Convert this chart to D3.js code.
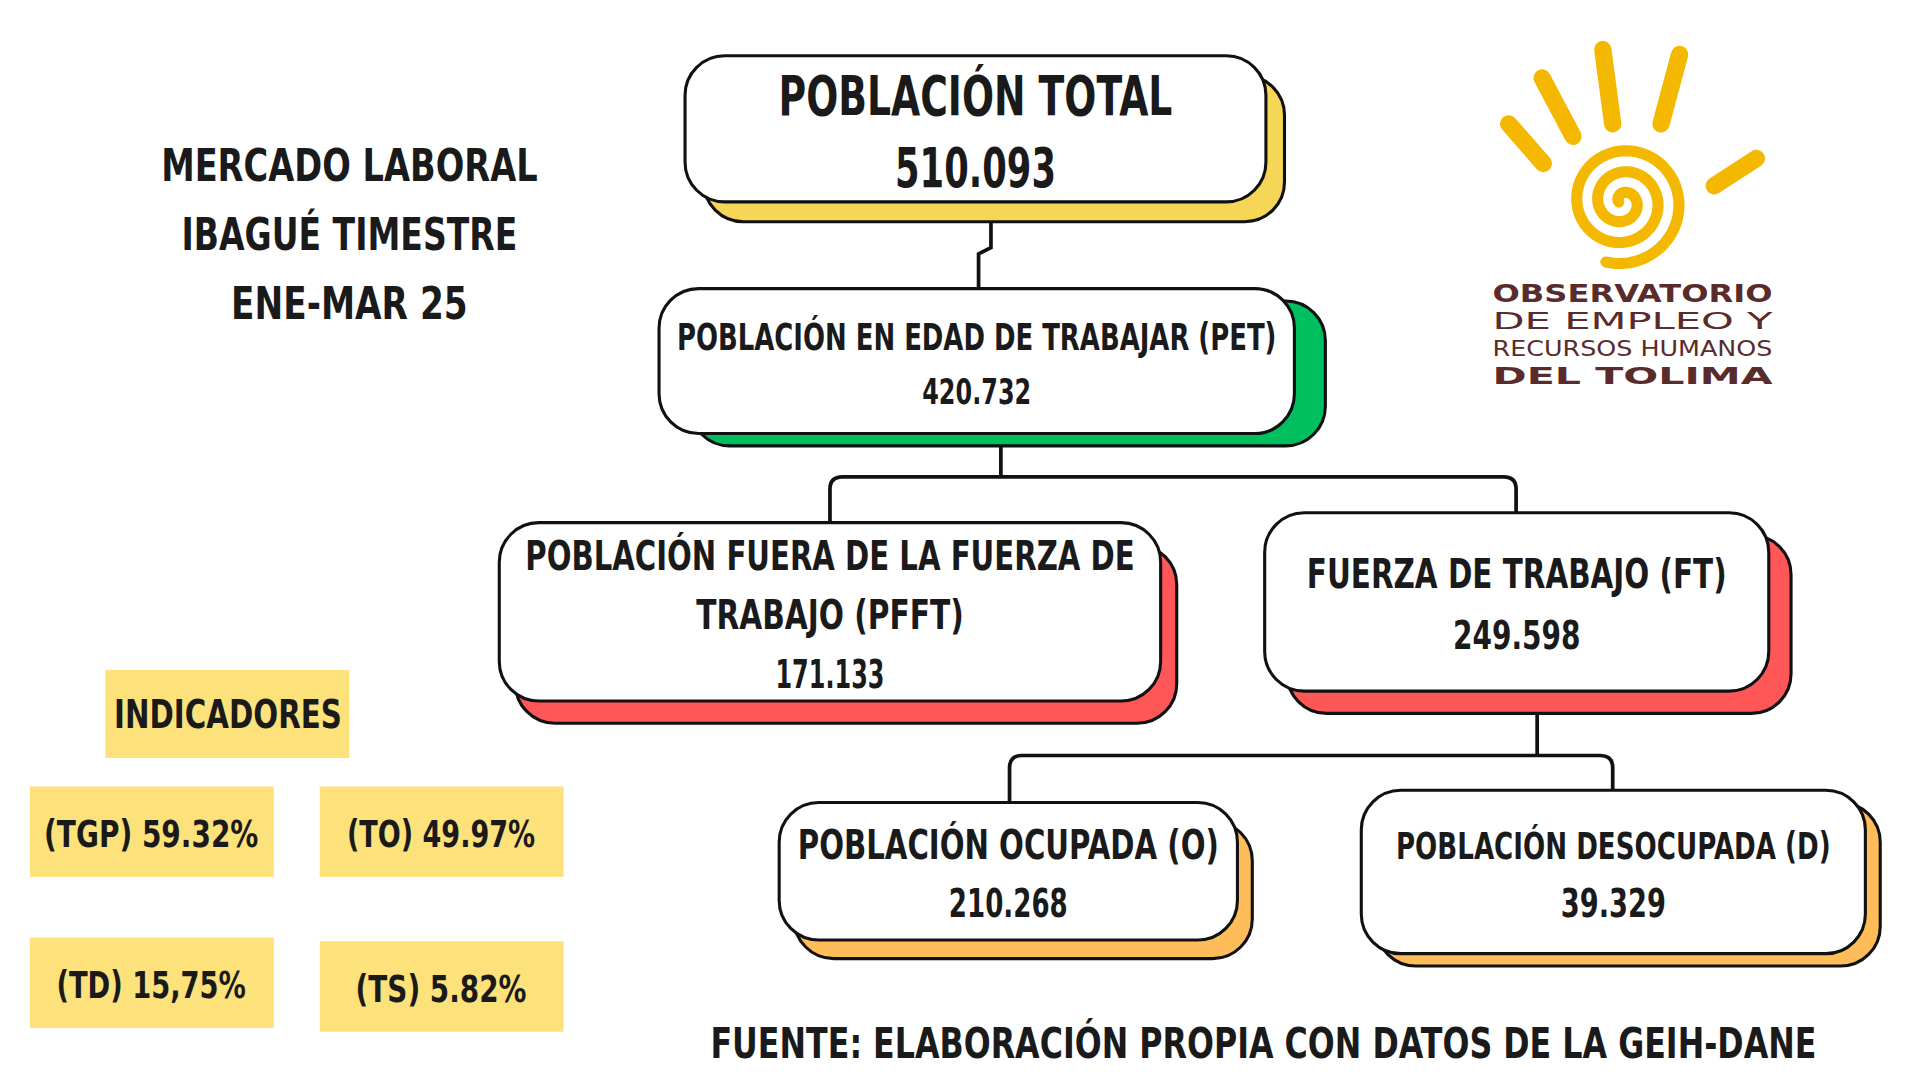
<!DOCTYPE html>
<html><head><meta charset="utf-8">
<script src="https://cdn.jsdelivr.net/npm/d3@7"></script>
<style>body{margin:0;background:#fff}svg{display:block}</style>
</head><body><svg id="c"></svg>
<script>
const boxLabels = ["POBLACIÓN TOTAL", "POBLACIÓN EN EDAD DE TRABAJAR (PET)", "POBLACIÓN FUERA DE LA FUERZA DE|TRABAJO (PFFT)", "FUERZA DE TRABAJO (FT)", "POBLACIÓN OCUPADA (O)", "POBLACIÓN DESOCUPADA (D)"];
const boxValues = ["510.093", "420.732", "171.133", "249.598", "210.268", "39.329"];
const indicatorLabels = ["(TGP) 59.32%", "(TO) 49.97%", "(TD) 15,75%", "(TS) 5.82%"];
const titleLines = ["MERCADO LABORAL", "IBAGUÉ TIMESTRE", "ENE-MAR 25"];
const sourceText = "FUENTE: ELABORACIÓN PROPIA CON DATOS DE LA GEIH-DANE";

// layout in a 1550x872 design space; tw = text widths per line (label lines then value)
const layout = [
  {x:553,y:45,w:469,h:118,dx:15,dy:16,c:"#f5d657",fs:44,vs:44,lh:58,tw:[318,130]},
  {x:532,y:233,w:513,h:117,dx:25,dy:10,c:"#00bf5f",fs:30,vs:29,lh:44,tw:[484,88]},
  {x:403,y:422,w:534,h:144,dx:13,dy:18,c:"#ff5757",fs:33,vs:31,lh:48,tw:[492,216,88]},
  {x:1021,y:414,w:407,h:144,dx:18,dy:18,c:"#ff5757",fs:33,vs:31,lh:50,tw:[339,103]},
  {x:629,y:648,w:370,h:111,dx:12,dy:15,c:"#ffbd59",fs:33,vs:31,lh:48,tw:[340,96]},
  {x:1099,y:638,w:407,h:132,dx:12,dy:10,c:"#ffbd59",fs:30,vs:31,lh:46,tw:[351,85]}
];
const font = "'DejaVu Sans',sans-serif";
const svg = d3.select("#c").attr("width",1920).attr("height",1080).attr("viewBox","0 0 1550 872");

// connectors
const conn = d3.path();
conn.moveTo(800,163); conn.lineTo(800,200); conn.lineTo(790,205); conn.lineTo(790,233);
conn.moveTo(808,350); conn.lineTo(808,385); conn.moveTo(670,422); conn.lineTo(670,395); conn.quadraticCurveTo(670,385,680,385);
conn.lineTo(1214,385); conn.quadraticCurveTo(1224,385,1224,395); conn.lineTo(1224,414);
conn.moveTo(1241,558); conn.lineTo(1241,610); conn.moveTo(815,648); conn.lineTo(815,620); conn.quadraticCurveTo(815,610,825,610);
conn.lineTo(1292,610); conn.quadraticCurveTo(1302,610,1302,620); conn.lineTo(1302,638);
svg.append("path").attr("d",conn.toString()).attr("fill","none").attr("stroke","#111").attr("stroke-width",3);

const g = svg.selectAll("g.box").data(boxLabels.map((l,i)=>({l,v:boxValues[i],...layout[i]}))).join("g");
g.append("rect").attr("x",d=>d.x+d.dx).attr("y",d=>d.y+d.dy).attr("width",d=>d.w).attr("height",d=>d.h)
  .attr("rx",32).attr("fill",d=>d.c).attr("stroke","#111").attr("stroke-width",2.5);
g.append("rect").attr("x",d=>d.x).attr("y",d=>d.y).attr("width",d=>d.w).attr("height",d=>d.h)
  .attr("rx",32).attr("fill","#fff").attr("stroke","#111").attr("stroke-width",2.5);
g.each(function(d){
  const lines = d.l.split("|").concat([d.v]);
  const n = lines.length, lh = d.lh;
  const y0 = d.y + d.h/2 - (n-1)*lh/2 + 2;
  d3.select(this).selectAll("text").data(lines).join("text")
    .attr("x", d.x+d.w/2).attr("y",(t,i)=>y0+i*lh).attr("dy","0.36em")
    .attr("text-anchor","middle").attr("font-family",font).attr("font-weight","bold")
    .attr("font-size",(t,i)=>i===n-1?d.vs:d.fs).attr("fill","#1a1a1a")
    .attr("textLength",(t,i)=>d.tw[i]).attr("lengthAdjust","spacingAndGlyphs").text(t=>t);
});

function condensed(sel, w){ sel.attr("textLength",w).attr("lengthAdjust","spacingAndGlyphs"); }

// title
const titleW = [304,271,191];
svg.append("g").selectAll("text").data(titleLines).join("text")
  .attr("x",282).attr("y",(t,i)=>133+i*56).attr("dy","0.36em").attr("text-anchor","middle")
  .attr("font-family",font).attr("font-weight","bold").attr("font-size",36).attr("fill","#1a1a1a")
  .attr("textLength",(t,i)=>titleW[i]).attr("lengthAdjust","spacingAndGlyphs").text(t=>t);

// indicators
const indPos = [{x:24,y:635},{x:258,y:635},{x:24,y:757},{x:258,y:760}];
const indW = [173,152,153,138];
svg.append("rect").attr("x",85).attr("y",541).attr("width",197).attr("height",71).attr("fill","#fde27b");
svg.append("text").attr("x",184).attr("y",577).attr("dy","0.36em").attr("text-anchor","middle")
  .attr("font-family",font).attr("font-weight","bold").attr("font-size",31).attr("fill","#1a1a1a").call(condensed,184).text("INDICADORES");
const ig = svg.selectAll("g.ind").data(indicatorLabels).join("g");
ig.append("rect").attr("x",(d,i)=>indPos[i].x).attr("y",(d,i)=>indPos[i].y).attr("width",197).attr("height",73).attr("fill","#fde27b");
ig.append("text").attr("x",(d,i)=>indPos[i].x+98).attr("y",(d,i)=>indPos[i].y+38).attr("dy","0.36em").attr("text-anchor","middle")
  .attr("font-family",font).attr("font-weight","bold").attr("font-size",30).attr("fill","#1a1a1a")
  .attr("textLength",(d,i)=>indW[i]).attr("lengthAdjust","spacingAndGlyphs").text(d=>d);

// source
svg.append("text").attr("x",1020).attr("y",842).attr("dy","0.36em").attr("text-anchor","middle")
  .attr("font-family",font).attr("font-weight","bold").attr("font-size",34).attr("fill","#1a1a1a").call(condensed,893).text(sourceText);

// logo
const logo = svg.append("g");
const rays = [[1218,100,1246,132],[1245,63,1270,110],[1294,40,1302,100],[1356,44,1341,100],[1418,128,1384,150]];
rays.forEach(r=>logo.append("line").attr("x1",r[0]).attr("y1",r[1]).attr("x2",r[2]).attr("y2",r[3])
  .attr("stroke","#f5b800").attr("stroke-width",14).attr("stroke-linecap","round"));
const sp = d3.path();
let first = true;
for (let t=0; t<=5.6*Math.PI; t+=0.05){
  const r = 3 + 2.7*t; const x = 1310 + r*Math.cos(t+Math.PI), y = 163 + r*Math.sin(t+Math.PI);
  if (first){sp.moveTo(x,y); first=false;} else sp.lineTo(x,y);
}
logo.append("path").attr("d",sp.toString()).attr("fill","none").attr("stroke","#f5b800").attr("stroke-width",9).attr("stroke-linecap","round");
const logoText = [["OBSERVATORIO",237,20,"bold"],["DE EMPLEO Y",259,18,"normal"],["RECURSOS HUMANOS",281,17,"normal"],["DEL TOLIMA",303,19,"bold"]];
svg.append("g").selectAll("text").data(logoText).join("text")
  .attr("x",1318).attr("y",d=>d[1]).attr("dy","0.36em").attr("text-anchor","middle")
  .attr("font-family","'DejaVu Sans',sans-serif").attr("font-weight",d=>d[3]).attr("font-size",d=>d[2])
  .attr("fill","#5a2b2b").attr("textLength",226).attr("lengthAdjust","spacingAndGlyphs").text(d=>d[0]);
</script></body></html>
